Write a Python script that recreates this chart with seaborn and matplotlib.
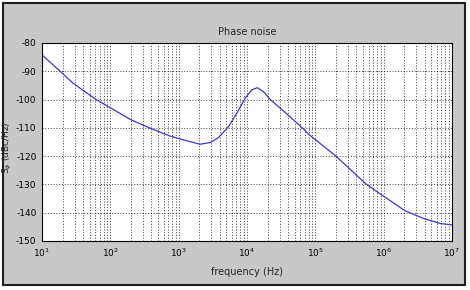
#!/usr/bin/env python3
"""Phase noise curve, MATLAB-style figure window look."""

import pandas as pd
import matplotlib
matplotlib.use("Agg")
import matplotlib.pyplot as plt
import seaborn as sns
from matplotlib.patches import Rectangle

# ---------------------------------------------------------------------------
# Data
# ---------------------------------------------------------------------------
freq_hz = [10, 18.8, 28.7, 63, 100, 195, 380, 748, 1240, 2055, 2880, 3800,
           5350, 7100, 9400, 11700, 14200, 17400, 21800, 34000, 60000, 83000,
           200000, 335000, 560000, 1.12e6, 2.05e6, 3.8e6, 6.7e6, 1.0e7]
phase_noise_db = [-84.2, -90.2, -94.3, -100.1, -102.9, -107.0, -110.1, -112.9,
                  -114.4, -115.8, -115.2, -113.5, -109.6, -104.8, -99.5, -96.6,
                  -95.8, -97.2, -99.9, -104.0, -109.3, -112.6, -120.0, -125.0,
                  -130.0, -135.0, -139.3, -142.0, -143.8, -144.3]
y_ticks = [-80, -90, -100, -110, -120, -130, -140, -150]

df = pd.DataFrame({"freq": freq_hz, "pn": phase_noise_db})

# ---------------------------------------------------------------------------
# Style
# ---------------------------------------------------------------------------
sns.set_style("white")
plt.rcParams["font.family"] = ["Liberation Sans Narrow", "DejaVu Sans"]
plt.rcParams["axes.unicode_minus"] = False

fig = plt.figure(figsize=(4.7, 2.9), dpi=100)
fig.patch.set_facecolor("white")
fig.patches.append(Rectangle((3 / 470, 5 / 290), 462 / 470, 282 / 290,
                             transform=fig.transFigure, facecolor="#c8c8c8",
                             edgecolor="#202020", linewidth=1.5, zorder=-10))

ax = fig.add_axes([42 / 470, 49 / 290, 410 / 470, 198 / 290])
ax.set_facecolor("white")

sns.lineplot(data=df, x="freq", y="pn", color="#3a3acc", linewidth=0.9, ax=ax)

ax.set_xscale("log")
ax.set_xlim(10, 1e7)
ax.set_ylim(-150, -80)
ax.set_yticks(y_ticks)
ax.set_yticklabels([str(v) for v in y_ticks])

dots = (0, (1.5, 2.5))
ax.grid(True, which="major", axis="both", color="black", linestyle=dots, linewidth=0.5)
ax.grid(True, which="minor", axis="x", color="black", linestyle=dots, linewidth=0.5)

for s in ax.spines.values():
    s.set_color("black")
    s.set_linewidth(0.8)
ax.tick_params(axis="both", which="both", labelsize=6.5, length=0, pad=4, colors="black")

ax.set_title("Phase noise", fontsize=7, pad=6)
ax.set_xlabel("frequency (Hz)", fontsize=7, labelpad=6)
ax.set_ylabel(r"S$_\phi$ (dBc/Hz)", fontsize=6.5)
ax.yaxis.set_label_coords(-0.068, 0.47)

fig.savefig("out.png", dpi=100)
plt.close(fig)
